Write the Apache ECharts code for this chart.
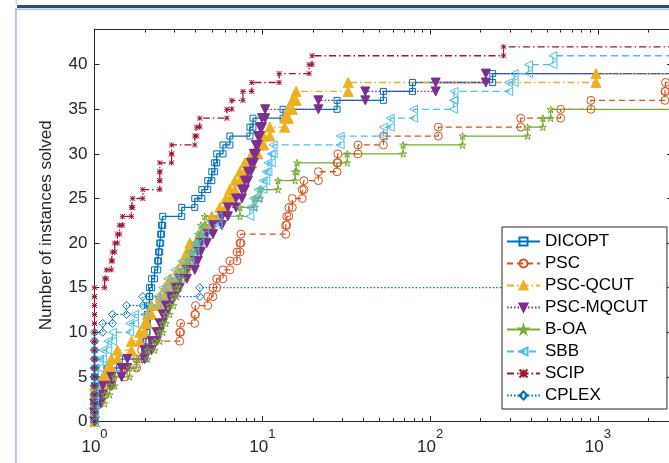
<!DOCTYPE html>
<html><head><meta charset="utf-8">
<script src="https://cdn.jsdelivr.net/npm/echarts@6/dist/echarts.min.js"></script>
<style>html,body{margin:0;padding:0;background:#fff;overflow:hidden}#c{width:669px;height:463px}</style>
</head><body><div id="c"></div>
<script>
// ---------------- data (performance ratios of each solved instance, sorted) ----------------
const seriesNames = ['DICOPT', 'PSC', 'PSC-QCUT', 'PSC-MQCUT', 'B-OA', 'SBB', 'SCIP', 'CPLEX'];
const ratiosDICOPT = [1, 1, 1, 1, 1, 1.20, 1.41, 1.99, 2.02, 2.05, 2.05, 2.07, 2.07, 2.13, 2.13, 2.19, 2.28, 2.38, 2.41, 2.45, 2.48, 2.51, 2.55, 3.31, 3.96, 4.36, 4.73, 5.0, 5.2, 5.35, 5.83, 6.41, 8.44, 8.8, 13.3, 27.9, 52.7, 78.6, 236];
const ratiosPSC = [1, 1, 1, 1.15, 1.26, 1.51, 1.78, 1.91, 2.13, 3.22, 3.26, 3.96, 4.0, 4.73, 5.08, 5.35, 5.83, 6.41, 7.07, 7.36, 7.46, 13.8, 14.0, 14.4, 15.1, 17.3, 17.7, 21.6, 27.9, 28.2, 37.2, 52.7, 112, 347, 600, 909, 2510, 2530];
const ratiosQCUT = [1, 1, 1, 1, 1.12, 1.20, 1.26, 1.37, 1.66, 1.86, 1.99, 2.07, 2.19, 2.45, 2.62, 2.81, 3.13, 3.36, 3.55, 3.70, 4.24, 4.54, 5.0, 5.58, 6.06, 6.41, 6.87, 7.36, 7.87, 8.66, 9.42, 10.2, 11.1, 13.6, 14.3, 15.1, 15.9, 32.5, 975];
const ratiosMQCUT = [1, 1, 1.09, 1.12, 1.26, 1.45, 1.57, 1.99, 2.19, 2.35, 2.45, 2.55, 2.66, 2.81, 3.01, 3.22, 3.55, 3.96, 4.13, 4.30, 4.67, 5.08, 5.75, 6.24, 6.97, 7.56, 7.87, 8.22, 8.55, 8.91, 9.16, 9.42, 9.69, 9.96, 10.4, 21.6, 41.1, 108, 215];
const ratiosBOA = [1, 1, 1.15, 1.23, 1.32, 1.62, 1.78, 2.07, 2.28, 2.45, 2.55, 2.66, 2.81, 2.96, 3.09, 3.22, 3.36, 3.60, 3.80, 3.96, 4.13, 4.30, 4.54, 7.36, 9.03, 9.69, 12.4, 15.7, 16.1, 32.1, 69.1, 156, 381, 470, 523];
const ratiosSBB = [1, 1, 1, 1, 1, 1, 1.07, 1.12, 1.20, 1.28, 1.62, 1.73, 1.99, 2.35, 2.55, 2.73, 3.01, 3.31, 3.70, 3.96, 4.24, 4.54, 5.44, 8.44, 8.8, 9.42, 10.1, 10.5, 10.8, 11.3, 11.6, 29.1, 52.7, 57.9, 79.6, 138, 139, 294, 317, 386, 540];
const ratiosSCIP = [1, 1, 1, 1, 1, 1, 1, 1, 1, 1, 1, 1, 1, 1, 1, 1.15, 1.18, 1.26, 1.28, 1.32, 1.37, 1.41, 1.47, 1.66, 1.69, 1.94, 2.45, 2.45, 2.45, 2.88, 2.88, 3.96, 4.07, 4.24, 6.15, 6.58, 7.66, 8.66, 12.6, 19.0, 19.8, 274];
const ratiosCPLEX = [1, 1, 1, 1, 1, 1, 1, 1, 1, 1, 1.12, 1.28, 1.55, 1.94, 4.24];
const xMajorTicks = [1, 10, 100, 1000];
const xMinorTicks = [2, 3, 4, 5, 6, 7, 8, 9, 20, 30, 40, 50, 60, 70, 80, 90, 200, 300, 400, 500, 600, 700, 800, 900, 2000];
const yTicks = [0, 5, 10, 15, 20, 25, 30, 35, 40];
const X_MIN = 1, X_MAX = 2765, Y_MIN = 0, Y_MAX = 44;

// ---------------- styles ----------------
const FONT = '"Liberation Sans", Arial, Helvetica, sans-serif';
const AX = '#262626';
const STAR = 'path://M50,2 L61,36 L97,36 L68,57 L79,92 L50,70 L21,92 L32,57 L3,36 L39,36 Z';
const ASTER = 'path://M0,0 L10,10 M10,0 L0,10 M5,0 L5,10 M0,5 L10,5';
const styles = {
  'DICOPT':    {color: '#0072BD', dash: 'solid',          symbol: 'rect',     size: 6,  filled: false, rotate: 0},
  'PSC':       {color: '#D95319', dash: [6, 4],           symbol: 'circle',   size: 8,  filled: false, rotate: 0},
  'PSC-QCUT':  {color: '#EDB120', dash: [7, 3, 1.5, 3],   symbol: 'triangle', size: 10, filled: true,  rotate: 0},
  'PSC-MQCUT': {color: '#7E2F8E', dash: [1.5, 2],         symbol: 'triangle', size: 9,  filled: true,  rotate: 180},
  'B-OA':      {color: '#77AC30', dash: 'solid',          symbol: STAR,       size: 7,  filled: false, rotate: 0},
  'SBB':       {color: '#4DBEEE', dash: [7, 4],           symbol: 'triangle', size: 8,  filled: false, rotate: 90},
  'SCIP':      {color: '#A2142F', dash: [7, 3, 1.5, 3],   symbol: ASTER,      size: 5,  filled: false, rotate: 0},
  'CPLEX':     {color: '#0072BD', dash: [1.5, 2],         symbol: 'diamond',  size: 8,  filled: false, rotate: 0}
};
const ratioSets = [ratiosDICOPT, ratiosPSC, ratiosQCUT, ratiosMQCUT, ratiosBOA, ratiosSBB, ratiosSCIP, ratiosCPLEX];

function profilePoints(ratios) {
  const pts = [];
  ratios.forEach((r, i) => { pts.push([r, i]); pts.push([r, i + 1]); });
  pts.push([X_MAX * 1.3, ratios.length]);
  return pts;
}

const series = seriesNames.map((name, k) => {
  const st = styles[name];
  return {
    name, type: 'line', data: profilePoints(ratioSets[k]),
    xAxisIndex: 0, yAxisIndex: 0,
    symbol: st.symbol, symbolSize: st.size, symbolRotate: st.rotate,
    showSymbol: true, showAllSymbol: true, clip: true,
    lineStyle: {color: st.color, width: 1.3, type: st.dash},
    itemStyle: {color: st.filled ? st.color : 'rgba(255,255,255,0)', borderColor: st.color, borderWidth: 1},
    emphasis: {disabled: true}, animation: false
  };
});

function xAxisDef(pos, ticks, len, showLine, showLabel) {
  return {
    type: 'log', logBase: 10, min: X_MIN, max: X_MAX, position: pos, gridIndex: 0,
    axisLine: {show: showLine, lineStyle: {color: AX, width: 1}},
    axisTick: {show: true, inside: true, length: len, customValues: ticks, lineStyle: {color: AX, width: 1}},
    minorTick: {show: false},
    splitLine: {show: false},
    axisLabel: showLabel ? {
      show: true, customValues: ticks, margin: 6, color: AX,
      formatter: v => '{b|10}{s|' + Math.round(Math.log10(v)) + '}',
      rich: {
        b: {fontSize: 17, fontFamily: FONT, color: AX, lineHeight: 28, verticalAlign: 'bottom'},
        s: {fontSize: 13, fontFamily: FONT, color: AX, lineHeight: 13, verticalAlign: 'top'}
      }
    } : {show: false}
  };
}
function yAxisDef(pos, showLabel) {
  return {
    type: 'value', min: Y_MIN, max: Y_MAX, position: pos, gridIndex: 0,
    name: showLabel ? 'Number of instances solved' : '',
    nameLocation: 'middle', nameRotate: 90, nameGap: 40,
    nameTextStyle: {fontSize: 17, fontFamily: FONT, color: AX},
    axisLine: {show: true, lineStyle: {color: AX, width: 1}},
    axisTick: {show: true, inside: true, length: 5, customValues: yTicks, lineStyle: {color: AX, width: 1}},
    splitLine: {show: false},
    axisLabel: showLabel ? {show: true, customValues: yTicks, margin: 7, fontSize: 17, fontFamily: FONT, color: AX} : {show: false}
  };
}

const chart = echarts.init(document.getElementById('c'), null, {renderer: 'canvas'});
chart.setOption({
  animation: false,
  backgroundColor: '#fff',
  grid: {left: 94.5, top: 29, width: 577.5, height: 392.5, containLabel: false, outerBoundsMode: 'none'},
  xAxis: [
    xAxisDef('bottom', xMajorTicks, 5.5, true, true),
    xAxisDef('bottom', xMinorTicks, 3.5, false, false),
    xAxisDef('top', xMajorTicks, 5.5, true, false),
    xAxisDef('top', xMinorTicks, 3.5, false, false)
  ],
  yAxis: [yAxisDef('left', true), yAxisDef('right', false)],
  legend: {
    orient: 'vertical', left: 502, top: 227,
    data: seriesNames, itemWidth: 33, itemHeight: 10, itemGap: 5,
    padding: [6, 19, 5, 4], backgroundColor: '#fff', borderColor: AX, borderWidth: 1,
    textStyle: {fontSize: 17, fontFamily: FONT, color: '#000', lineHeight: 16},
    selectedMode: false
  },
  graphic: [
    {type: 'rect', silent: true, shape: {x: 17, y: 5, width: 700, height: 3}, style: {fill: '#2e4c7a'}},
    {type: 'rect', silent: true, shape: {x: 15, y: 8.5, width: 700, height: 1.5}, style: {fill: '#a9c5e9'}},
    {type: 'rect', silent: true, shape: {x: 15, y: 8.5, width: 1.8, height: 460}, style: {fill: '#a9c5e9'}},
    {type: 'rect', silent: true, shape: {x: 15.5, y: 0, width: 1.5, height: 5}, style: {fill: '#c6d8f0'}}
  ],
  series
});
</script>
</body></html>
